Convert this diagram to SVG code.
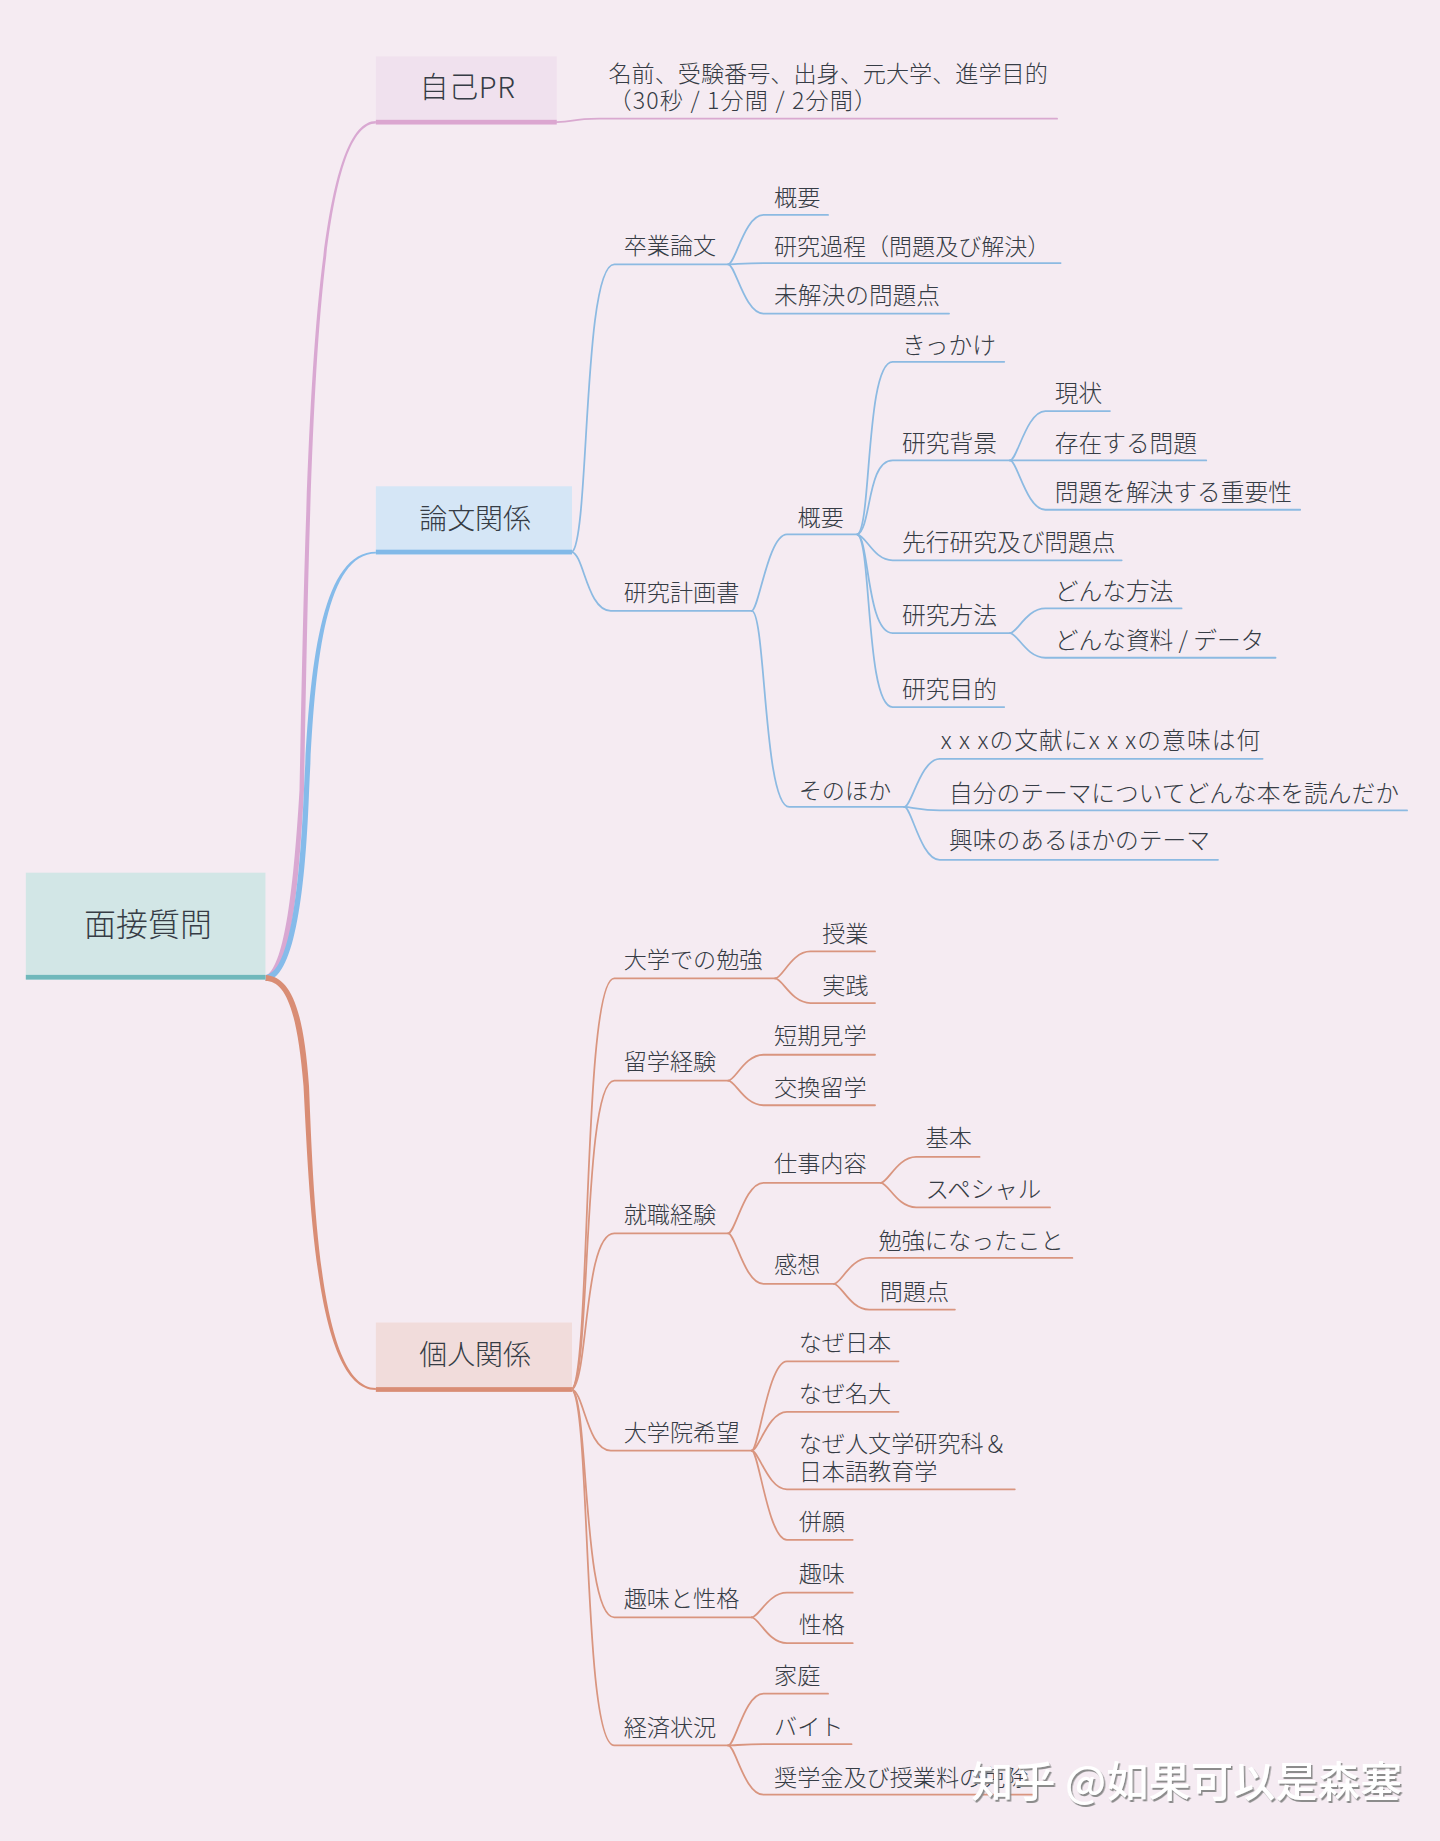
<svg xmlns="http://www.w3.org/2000/svg" width="1440" height="1841" viewBox="0 0 1440 1841">
<style>
text{font-family:"Noto Sans CJK JP","Noto Sans",sans-serif;fill:#363c45;font-weight:300}
.l{font-size:19.7px}
.k{font-size:20.2px}
.m{font-size:23.8px;text-anchor:middle}
.c{font-size:27.2px;text-anchor:middle}
.w{font-size:42.3px;font-weight:500;fill:#fff;filter:url(#sh)}
#links path{fill:none;stroke-width:1.5;stroke-linecap:round}
#links .b path{stroke:#8cbae2}
#links .o path{stroke:#d9957f}
#links .p path{stroke:#d9a9d0}
</style>
<defs><filter id="sh" x="-5%" y="-20%" width="110%" height="140%"><feDropShadow dx="1.5" dy="2" stdDeviation="0.6" flood-color="#8c8c8c"/></filter></defs>
<rect width="1440" height="1841" fill="#f5ebf2"/>
<g id="trunks">
<path d="M265.500 976C283 968 293 900 299.500 790C306.500 450 311 121 376 121V123.500C314 123.500 310.500 450 304 790C298 900 290 975 265.500 980Z" fill="#d9a8d2"/>
<path d="M265.500 975C288 973 299 900 303.800 793C309 680 318 551.700 376 551.700V553.500C322 553.500 314 680 309 793C305 900 293 980 265.500 981Z" fill="#85bbea"/>
<path d="M265.500 975C288 977 303 1000 309 1086C313.500 1200 320 1388 376 1388V1390C316 1390 309.500 1200 303.500 1086C297 1005 284 981 265.500 981Z" fill="#d98d75"/>
</g>
<g id="nodes" transform="scale(1.17455)">
<g id="n-root"><rect x="22" y="743" width="204" height="91" fill="#d2e6e6"/><rect x="22" y="830" width="204" height="4" fill="#70b8bb"/><text class="c" x="126" y="797">面接質問</text></g>
<g id="n-pr"><rect x="320" y="48" width="154" height="58" fill="#f0e1ee"/><rect x="320" y="102" width="154" height="4" fill="#dba6d0"/><text class="m" x="398" y="83.500" style="font-size:24.8px;letter-spacing:.5px">自己PR</text></g>
<g id="n-pr1"><text class="l" x="518" y="70">名前、受験番号、出身、元大学、進学目的</text><text class="l" x="518" y="93" style="letter-spacing:1px">（30秒 / 1分間 / 2分間）</text></g>
<g id="n-ron"><rect x="320" y="414" width="167" height="58" fill="#d5e6f6"/><rect x="320" y="468" width="167" height="4" fill="#82b9e8"/><text class="m" x="404.500" y="450">論文関係</text></g>
<g id="n-ko"><rect x="320" y="1126" width="167" height="59" fill="#f1dcdb"/><rect x="320" y="1181" width="167" height="4" fill="#d98d75"/><text class="m" x="404.500" y="1162.500">個人関係</text></g>
<g id="n1"><text class="l" x="531" y="216">卒業論文</text></g>
<g id="n2"><text class="l" x="659" y="175">概要</text></g>
<g id="n3"><text class="l" x="659" y="217" style="font-size:19.6px">研究過程（問題及び解決）</text></g>
<g id="n4"><text class="k" x="659" y="259">未解決の問題点</text></g>
<g id="n5"><text class="l" x="531" y="512">研究計画書</text></g>
<g id="n6"><text class="l" x="679" y="448">概要</text></g>
<g id="n7"><text class="k" x="768" y="301">きっかけ</text></g>
<g id="n8"><text class="k" x="768" y="384.500">研究背景</text></g>
<g id="n9"><text class="k" x="898" y="342">現状</text></g>
<g id="n10"><text class="k" x="898" y="384.500">存在する問題</text></g>
<g id="n11"><text class="k" x="898" y="426.500">問題を解決する重要性</text></g>
<g id="n12"><text class="k" x="768" y="469">先行研究及び問題点</text></g>
<g id="n13"><text class="k" x="768" y="531">研究方法</text></g>
<g id="n14"><text class="k" x="898" y="510.500">どんな方法</text></g>
<g id="n15"><text class="k" x="898" y="552.500">どんな資料 / データ</text></g>
<g id="n16"><text class="k" x="768" y="594">研究目的</text></g>
<g id="n17"><text class="l" x="680" y="680">そのほか</text></g>
<g id="n18"><text class="k" x="801" y="638" textLength="272">x x xの文献にx x xの意味は何</text></g>
<g id="n19"><text class="k" x="808" y="682.500">自分のテーマについてどんな本を読んだか</text></g>
<g id="n20"><text class="k" x="808" y="723">興味のあるほかのテーマ</text></g>
<g id="n21"><text class="l" x="531" y="824">大学での勉強</text></g>
<g id="n22"><text class="l" x="700" y="802">授業</text></g>
<g id="n23"><text class="l" x="700" y="846">実践</text></g>
<g id="n24"><text class="l" x="531" y="911">留学経験</text></g>
<g id="n25"><text class="l" x="659" y="889">短期見学</text></g>
<g id="n26"><text class="l" x="659" y="933">交換留学</text></g>
<g id="n27"><text class="l" x="531" y="1041">就職経験</text></g>
<g id="n28"><text class="l" x="659" y="998">仕事内容</text></g>
<g id="n29"><text class="l" x="788" y="976">基本</text></g>
<g id="n30"><text class="l" x="788" y="1020" style="font-size:20px">スペシャル</text></g>
<g id="n31"><text class="l" x="659" y="1084">感想</text></g>
<g id="n32"><text class="l" x="748" y="1063">勉強になったこと</text></g>
<g id="n33"><text class="l" x="749" y="1107">問題点</text></g>
<g id="n34"><text class="l" x="531" y="1227">大学院希望</text></g>
<g id="n35"><text class="l" x="680" y="1150">なぜ日本</text></g>
<g id="n36"><text class="l" x="680" y="1194">なぜ名大</text></g>
<g id="n37"><text class="l" x="680" y="1236">なぜ人文学研究科＆</text><text class="l" x="680" y="1260">日本語教育学</text></g>
<g id="n38"><text class="l" x="680" y="1303">併願</text></g>
<g id="n39"><text class="l" x="531" y="1368">趣味と性格</text></g>
<g id="n40"><text class="l" x="680" y="1347">趣味</text></g>
<g id="n41"><text class="l" x="680" y="1390">性格</text></g>
<g id="n42"><text class="l" x="531" y="1478">経済状況</text></g>
<g id="n43"><text class="l" x="659" y="1434">家庭</text></g>
<g id="n44"><text class="l" x="659" y="1477">バイト</text></g>
<g id="n45"><text class="l" x="659" y="1521">奨学金及び授業料の免除</text></g>
</g>
<g id="links" transform="scale(1.17455)">
<g class="p"><path d="M474 104C490 104 485 101 510 101H900"/></g>
<g class="b">
<path d="M487 470C502 460 496 225 523 225H620"/>
<path d="M487 470C497 472 500 520 520 520H640"/>
<path d="M620 225C626 225 634 183 650 183H705"/>
<path d="M620 225C626 225 634 224 650 224H903"/>
<path d="M620 225C626 225 634 267 650 267H808"/>
<path d="M640 520C646 520 654 455 670 455H730"/>
<path d="M640 520C652 520 650 687 672 687H770"/>
<path d="M730 455C742 450 737 308 760 308H855"/>
<path d="M730 455C742 450 738 392 760 392H860"/>
<path d="M730 455C738 457 744 477 760 477H955"/>
<path d="M730 455C740 458 738 539 760 539H860"/>
<path d="M730 455C742 460 737 602 760 602H855"/>
<path d="M860 392C866 392 874 350 890 350H945"/>
<path d="M860 392H1027"/>
<path d="M860 392C866 392 874 434 890 434H1107"/>
<path d="M860 539C866 539 874 518 890 518H1006"/>
<path d="M860 539C866 539 874 560 890 560H1086"/>
<path d="M770 687C776 687 784 646 800 646H1075"/>
<path d="M770 687C776 687 784 690 800 690H1198"/>
<path d="M770 687C776 687 784 732 800 732H1037"/>
</g>
<g class="o">
<path d="M487 1183C503 1170 496 833 523 833H660"/>
<path d="M487 1183C503 1170 496 920 523 920H620"/>
<path d="M487 1183C501 1175 497 1050 523 1050H620"/>
<path d="M487 1183C497 1185 500 1235 520 1235H640"/>
<path d="M487 1183C501 1190 496 1377 523 1377H640"/>
<path d="M487 1183C503 1195 496 1486 523 1486H620"/>
<path d="M660 833C666 833 674 810 690 810H745"/>
<path d="M660 833C666 833 674 854 690 854H745"/>
<path d="M620 920C626 920 634 898 650 898H745"/>
<path d="M620 920C626 920 634 941 650 941H745"/>
<path d="M620 1050C626 1050 634 1007 650 1007H750"/>
<path d="M620 1050C626 1050 634 1093 650 1093H710"/>
<path d="M750 1007C756 1007 764 985 780 985H834"/>
<path d="M750 1007C756 1007 764 1028 780 1028H894"/>
<path d="M710 1093C716 1093 724 1071 740 1071H913"/>
<path d="M710 1093C716 1093 724 1115 740 1115H813"/>
<path d="M640 1235C646 1235 654 1159 670 1159H765"/>
<path d="M640 1235C646 1235 654 1202 670 1202H765"/>
<path d="M640 1235C646 1235 654 1268 670 1268H864"/>
<path d="M640 1235C646 1235 654 1311 670 1311H726"/>
<path d="M640 1377C646 1377 654 1356 670 1356H726"/>
<path d="M640 1377C646 1377 654 1399 670 1399H726"/>
<path d="M620 1486C626 1486 634 1442 650 1442H705"/>
<path d="M620 1486C626 1486 634 1485 650 1485H725"/>
<path d="M620 1486C626 1486 634 1528 650 1528H879"/>
</g>
</g>
<text class="w" x="971" y="1797">知乎 @如果可以是森塞</text>
</svg>
